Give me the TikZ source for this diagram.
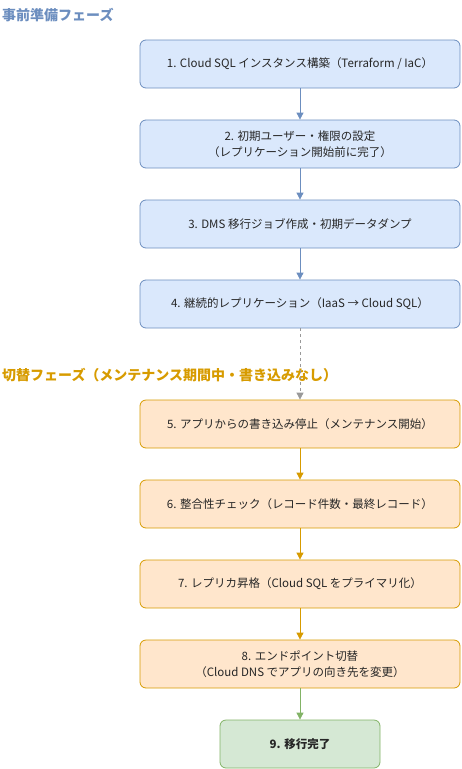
\documentclass[tikz,border=0pt]{standalone}
\usepackage{fontspec}
\setmainfont{Noto Sans CJK JP}
\usetikzlibrary{arrows.meta}
\definecolor{bluefill}{HTML}{DAE8FC}
\definecolor{bluedraw}{HTML}{6C8EBF}
\definecolor{orfill}{HTML}{FFE6CC}
\definecolor{ordraw}{HTML}{D79B00}
\definecolor{grfill}{HTML}{D5E8D4}
\definecolor{grdraw}{HTML}{82B366}
\definecolor{dashgray}{HTML}{999999}
\tikzset{
  x=1pt,y=-1pt,
  box/.style={rounded corners=6pt,line width=0.8pt,minimum width=320pt,minimum height=48pt,inner sep=0pt,align=center,font=\fontsize{11.5}{16.5}\selectfont,text=black!85},
  bluebox/.style={box,fill=bluefill,draw=bluedraw},
  orbox/.style={box,fill=orfill,draw=ordraw},
  grbox/.style={box,fill=grfill,draw=grdraw,minimum width=160pt,font=\fontsize{11.5}{16.5}\selectfont\bfseries},
  conn/.style={line width=0.8pt,-{Triangle[length=7pt,width=7pt]}},
  phase/.style={anchor=west,inner sep=0pt,font=\fontsize{14}{16}\selectfont\bfseries}
}
\begin{document}
\begin{tikzpicture}
\useasboundingbox (0,0) rectangle (461,769);
\node[phase,text=bluedraw] (t1) at (2,15) {事前準備フェーズ};
\node[bluebox] (b1) at (300,64) {1. Cloud SQL インスタンス構築（Terraform / IaC）};
\node[bluebox] (b2) at (300,144) {2. 初期ユーザー・権限の設定\\（レプリケーション開始前に完了）};
\node[bluebox] (b3) at (300,224) {3. DMS 移行ジョブ作成・初期データダンプ};
\node[bluebox] (b4) at (300,304) {4. 継続的レプリケーション（IaaS → Cloud SQL）};
\node[phase,text=ordraw] (t2) at (2,375) {切替フェーズ（メンテナンス期間中・書き込みなし）};
\node[orbox] (b5) at (300,424) {5. アプリからの書き込み停止（メンテナンス開始）};
\node[orbox] (b6) at (300,504) {6. 整合性チェック（レコード件数・最終レコード）};
\node[orbox] (b7) at (300,584) {7. レプリカ昇格（Cloud SQL をプライマリ化）};
\node[orbox] (b8) at (300,664) {8. エンドポイント切替\\（Cloud DNS でアプリの向き先を変更）};
\node[grbox] (b9) at (300,744) {9. 移行完了};
\draw[conn,bluedraw] (b1) -- (b2);
\draw[conn,bluedraw] (b2) -- (b3);
\draw[conn,bluedraw] (b3) -- (b4);
\draw[conn,dashgray,dash pattern=on 3pt off 3pt] (b4) -- (b5);
\draw[conn,ordraw] (b5) -- (b6);
\draw[conn,ordraw] (b6) -- (b7);
\draw[conn,ordraw] (b7) -- (b8);
\draw[conn,grdraw] (b8) -- (b9);
\end{tikzpicture}
\end{document}
